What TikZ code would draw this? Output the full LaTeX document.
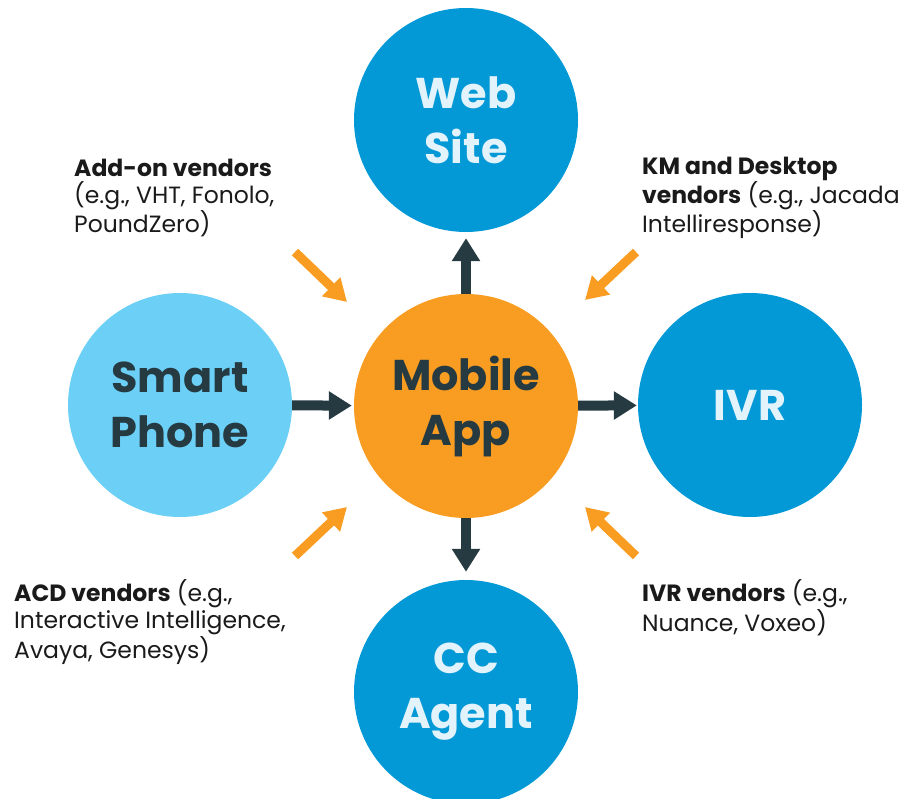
\documentclass[tikz,border=0pt]{standalone}
\usepackage{fontspec}
\setmainfont{Poppins}
\usetikzlibrary{arrows.meta}
\definecolor{cblue}{HTML}{0399D6}
\definecolor{clight}{HTML}{6CCFF6}
\definecolor{corange}{HTML}{F89D21}
\definecolor{cdark}{HTML}{263A42}
\definecolor{cpale}{HTML}{E3F3FB}
\definecolor{ctext}{HTML}{1A1A1A}
\begin{document}
\begin{tikzpicture}[x=1pt,y=-1pt,
  bubble/.style={circle,minimum size=224pt,inner sep=0pt,align=center,
    font=\fontsize{43}{55}\selectfont\bfseries},
  darr/.style={draw=cdark,line width=10pt,-{Triangle[width=27pt,length=23pt]}},
  oarr/.style={draw=corange,line width=9pt,-{Triangle[width=25pt,length=22pt]}},
  vend/.style={anchor=base west,align=left,text=ctext,
    font=\fontsize{23.5}{27.5}\selectfont,inner sep=0pt}]
\useasboundingbox (0,0) rectangle (912,799);
\node[bubble,fill=cblue,text=cpale] (web) at (466,120) {Web\\Site};
\node[bubble,fill=corange,text=cdark] (app) at (466,406) {Mobile\\App};
\node[bubble,fill=clight,text=cdark] (phone) at (180,405) {Smart\\Phone};
\node[bubble,fill=cblue,text=cpale] (ivr) at (750,405) {IVR};
\node[bubble,fill=cblue,text=cpale] (cc) at (466,692) {CC\\Agent};
\draw[darr,shorten >=6pt] (app) -- (web);
\draw[darr,shorten >=2pt] (phone) -- (app);
\draw[darr,shorten >=1pt] (app) -- (ivr);
\draw[darr,shorten >=8pt] (app) -- (cc);
\coordinate (o1a) at (295,252); \coordinate (o1b) at (347,302);
\coordinate (o2a) at (636,252); \coordinate (o2b) at (585,300);
\coordinate (o3a) at (295,556); \coordinate (o3b) at (347,507);
\coordinate (o4a) at (636,556); \coordinate (o4b) at (585,507);
\draw[oarr] (o1a) -- (o1b);
\draw[oarr] (o2a) -- (o2b);
\draw[oarr] (o3a) -- (o3b);
\draw[oarr] (o4a) -- (o4b);
\node[vend] (t1) at (74,233) {\textbf{Add-on vendors}\\(e.g., VHT, Fonolo,\\PoundZero)};
\node[vend] (t2) at (642,233) {\textbf{KM and Desktop}\\\textbf{vendors} (e.g., Jacada\\Intelliresponse)};
\node[vend] (t3) at (14,658) {\textbf{ACD vendors} (e.g.,\\Interactive Intelligence,\\Avaya, Genesys)};
\node[vend] (t4) at (642,631) {\textbf{IVR vendors} (e.g.,\\Nuance, Voxeo)};
\end{tikzpicture}
\end{document}
